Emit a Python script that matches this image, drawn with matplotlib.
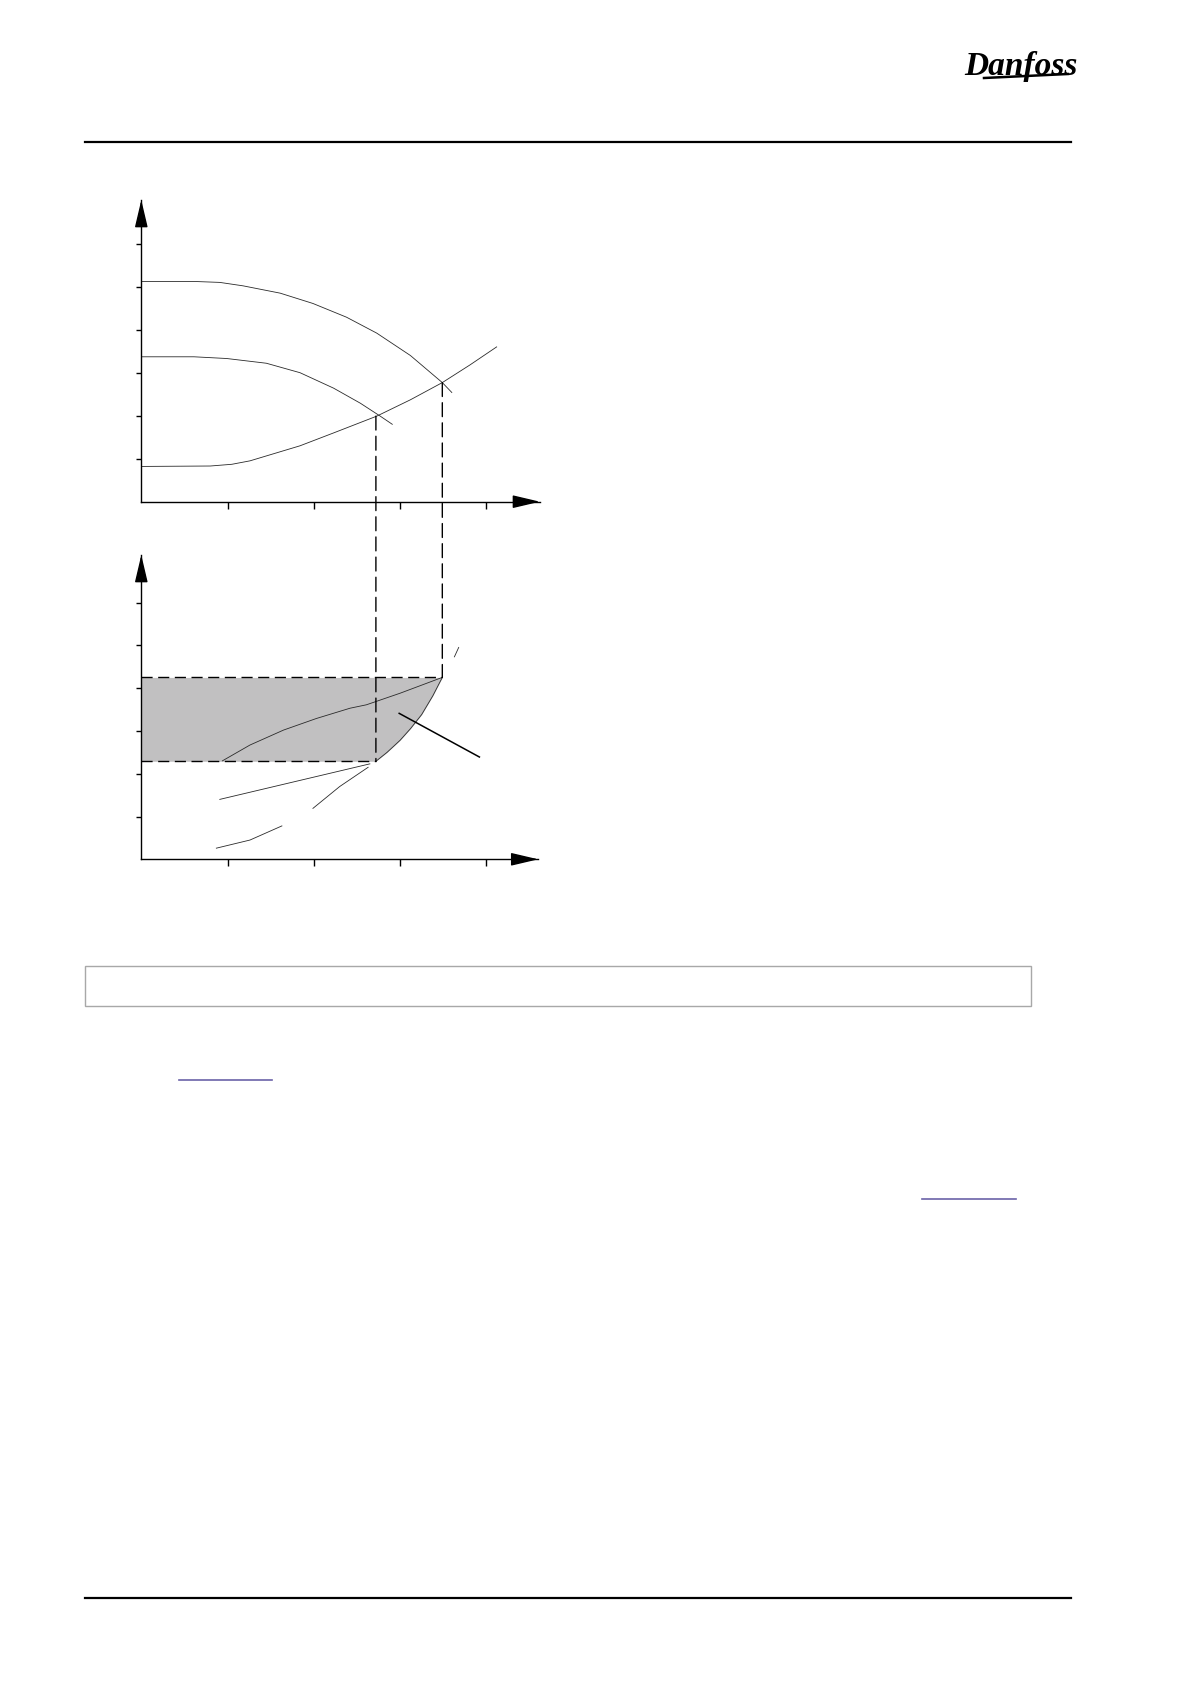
import matplotlib.pyplot as plt
import numpy as np
from matplotlib.patches import Rectangle, ConnectionPatch

plt.rcParams['lines.scale_dashes'] = False

W, H = 1191, 1684

# --- top chart: pump curves and system curve (chart units) ---
pump_hi_x = [0, 0.64, 0.91, 1.18, 1.61, 1.99, 2.38, 2.73, 3.12, 3.49, 3.60]
pump_hi_y = [5.12, 5.12, 5.10, 5.02, 4.85, 4.61, 4.29, 3.92, 3.40, 2.77, 2.54]
pump_lo_x = [0, 0.61, 0.99, 1.45, 1.84, 2.23, 2.54, 2.77, 2.91]
pump_lo_y = [3.37, 3.37, 3.33, 3.22, 3.00, 2.64, 2.29, 1.99, 1.80]
system_x = [0, 0.80, 1.05, 1.26, 1.84, 2.23, 2.73, 3.12, 3.49, 3.81, 4.12]
system_y = [0.82, 0.83, 0.87, 0.95, 1.30, 1.60, 1.99, 2.37, 2.77, 3.18, 3.60]
q_op = [2.72, 3.49]          # operating flows
h_op = [1.99, 2.77]          # heads at operating points

# --- bottom chart: power curves (chart units) ---
p_op = [2.29, 4.25]          # power levels at operating points
power_x = [2.72, 2.85, 3.00, 3.12, 3.25, 3.38, 3.49]
power_y = [2.29, 2.50, 2.78, 3.05, 3.38, 3.82, 4.25]
power_low_x = [1.99, 2.30, 2.63]
power_low_y = [1.19, 1.70, 2.15]
power_top_x = [3.63, 3.68]
power_top_y = [4.73, 4.95]
curve_a_x = [0.94, 1.26, 1.65, 2.03, 2.42, 2.61, 3.00, 3.49]
curve_a_y = [2.30, 2.67, 3.02, 3.29, 3.53, 3.61, 3.88, 4.25]
curve_b_x = [0.91, 2.65]
curve_b_y = [1.40, 2.23]
curve_c_x = [0.87, 1.26, 1.63]
curve_c_y = [0.26, 0.45, 0.78]
leader_x = [2.99, 3.92]
leader_y = [3.41, 2.39]

xticks = [1, 2, 3, 4]
yticks = [1, 2, 3, 4, 5, 6]

fig = plt.figure(figsize=(W / 100, H / 100), dpi=100)
fig.patch.set_facecolor('white')

# page decorations
page = fig.add_axes([0, 0, 1, 1])
page.set_xlim(0, W)
page.set_ylim(H, 0)
page.axis('off')
page.plot([85, 1071], [142, 142], color='black', lw=1.6)
page.plot([85, 1071], [1598, 1598], color='black', lw=1.6)
page.add_patch(Rectangle((85, 966), 946, 40, fill=False, ec='#a8a8a8', lw=1.0))
page.plot([179, 272], [1080, 1080], color='#6b62a8', lw=1.2)
page.plot([922, 1016], [1199, 1199], color='#6b62a8', lw=1.2)
page.text(1021, 66, 'Danfoss', ha='center', va='center', fontsize=24,
          family='Liberation Serif', style='italic', weight='bold', color='black')
page.plot([984, 1068], [78, 74], color='black', lw=1.8)


def make_axes(x0, y0, x_tip, y_tip, ux, uy):
    ax = fig.add_axes([x0 / W, 1 - y0 / H, (x_tip - x0) / W, (y0 - y_tip) / H])
    ax.set_xlim(0, (x_tip - x0) / ux)
    ax.set_ylim(0, (y0 - y_tip) / uy)
    ax.patch.set_alpha(0)
    for s in ['top', 'right']:
        ax.spines[s].set_visible(False)
    for s in ['left', 'bottom']:
        ax.spines[s].set_linewidth(1.0)
    ax.set_xticks(xticks)
    ax.set_yticks(yticks)
    ax.set_xticklabels([])
    ax.set_yticklabels([])
    ax.tick_params(axis='x', direction='out', length=5, width=1.0)
    ax.tick_params(axis='y', direction='out', length=3.8, width=1.0)
    ap = dict(arrowstyle='-|>,head_length=0.85,head_width=0.2', color='black',
              lw=1.0, shrinkA=0, shrinkB=0, mutation_scale=20)
    ax.annotate('', xy=(0, 1), xytext=(0, 0.93), xycoords='axes fraction', arrowprops=ap)
    ax.annotate('', xy=(1, 0), xytext=(0.94, 0), xycoords='axes fraction', arrowprops=ap)
    return ax


ax1 = make_axes(141.3, 501.7, 540, 200, 86.25, 43.0)
ax2 = make_axes(141.3, 859.3, 538.3, 555, 86.25, 42.8)

thin = dict(color='#2a2a2a', lw=0.6)
ax1.plot(pump_hi_x, pump_hi_y, **thin)
ax1.plot(pump_lo_x, pump_lo_y, **thin)
ax1.plot(system_x, system_y, **thin)

# shaded power band
band_x = [0] + power_x
band_lo = [p_op[0]] + power_y
ax2.fill_between(band_x, band_lo, p_op[1], color='#c1c0c1', lw=0, zorder=1)
ax2.plot(power_x, power_y, **thin)
ax2.plot(power_low_x, power_low_y, **thin)
ax2.plot(power_top_x, power_top_y, **thin)
ax2.plot(curve_a_x, curve_a_y, **thin)
ax2.plot(curve_b_x, curve_b_y, **thin)
ax2.plot(curve_c_x, curve_c_y, **thin)
ax2.plot(leader_x, leader_y, color='black', lw=1.1)

dash = dict(color='black', lw=1.0, linestyle=(0, (8, 4)))
ax2.hlines(p_op[1], 0, q_op[1], **dash)
ax2.hlines(p_op[0], 0, q_op[0], **dash)

for q, h, p in zip(q_op, h_op, p_op):
    con = ConnectionPatch(xyA=(q, h), coordsA=ax1.transData,
                          xyB=(q, p), coordsB=ax2.transData,
                          color='black', lw=1.0, linestyle=(0, (10, 4.5)))
    fig.add_artist(con)

fig.savefig('out.png', dpi=100)
